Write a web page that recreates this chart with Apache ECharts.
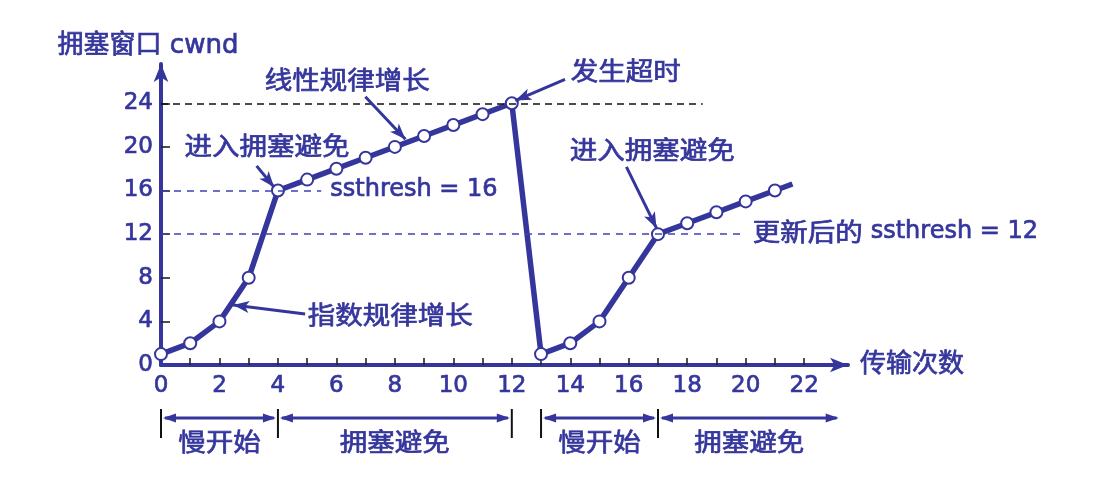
<!DOCTYPE html>
<html>
<head>
<meta charset="utf-8">
<script src="https://cdn.jsdelivr.net/npm/echarts@6/dist/echarts.min.js"></script>
<style>
html,body{margin:0;padding:0;background:#fff;}
#main{width:1103px;height:483px;}
</style>
</head>
<body>
<div id="main"></div>
<script>
// ---------- data ----------
const transmissions = [0,1,2,3,4,5,6,7,8,9,10,11,12,13,14,15,16,17,18,19,20,21];
const cwnd = [1,2,4,8,16,17,18,19,20,21,22,23,24,1,2,4,8,12,13,14,15,16];
const tailPoint = [21.6, 16.6];           // where the drawn line stops (no marker)
const xTickLabels = [0,2,4,6,8,10,12,14,16,18,20,22];
const xTicks = [1,2,3,4,5,6,7,8,9,10,11,12,13,14,15,16,17,18,19,20,21,22];
const yTickLabels = [0,4,8,12,16,20,24];
const yTicks = [4,8,12,16,20,24];

const ssthreshOld = 16;
const ssthreshNew = 12;
const timeoutLevel = 24;

const noteTexts = ['线性规律增长','进入拥塞避免','指数规律增长','发生超时','进入拥塞避免'];
const noteAt = [[6.37,26.15],[3.63,20.1],[7.84,4.6],[15.9,26.97],[16.8,19.8]];
const noteArrows = [
  [[6.99,24.6],[8.36,20.7]],
  [[3.27,18.26],[3.87,16.3]],
  [[4.93,4.68],[2.47,5.5]],
  [[13.82,26.19],[12.12,24.25]],
  [[15.92,18.17],[16.95,12.55]]
];
const phaseNames = ['慢开始','拥塞避免','慢开始','拥塞避免'];
const phaseBounds = [[0,4],[4,12],[13,17],[17,23.25]];

// ---------- style ----------
const BLUE = '#35369c';
const DASHBLUE = '#3f40b8';
const LATIN = 'DejaVu Sans';
const CJK = '"DejaVu Sans","Noto Sans CJK SC"';
const THICK = {textBorderColor:BLUE, textBorderWidth:0.7};

const seriesData = transmissions.map((t,i)=>[t,cwnd[i]]);
seriesData.push({value: tailPoint, symbol:'none'});

const dashedLines = [
  [{coord:[0,timeoutLevel], lineStyle:{color:'#111',width:1.7,type:[7,5]}}, {coord:[18.53,timeoutLevel]}],
  [{coord:[0,ssthreshOld], lineStyle:{color:DASHBLUE,width:1.7,type:[7,6]}}, {coord:[5.48,ssthreshOld]}],
  [{coord:[0,ssthreshNew], lineStyle:{color:DASHBLUE,width:1.7,type:[7,6]}}, {coord:[19.97,ssthreshNew]}]
];
const arrowLines = noteArrows.map(a=>[
  {coord:a[0], symbol:'none', lineStyle:{color:BLUE,width:3,type:'solid'}},
  {coord:a[1], symbol:'arrow', symbolSize:[9,16]}
]);

const chart = echarts.init(document.getElementById('main'), null, {renderer:'canvas'});
const option = {
  animation:false,
  backgroundColor:'#fff',
  grid:{left:161, right:255, top:64, bottom:118, containLabel:false},
  xAxis:{
    type:'value', min:0, max:23.5,
    name:'传输次数', nameLocation:'end', nameGap:12,
    nameTextStyle:Object.assign({color:BLUE, fontSize:26, fontFamily:CJK, verticalAlign:'middle', align:'left'}, THICK),
    axisLine:{show:true, symbol:['none','arrow'], symbolSize:[11,18], lineStyle:{color:BLUE, width:4}},
    axisTick:{show:true, inside:true, length:7, customValues:xTicks, lineStyle:{color:'#222', width:1.6}},
    axisLabel:Object.assign({customValues:xTickLabels, color:BLUE, fontSize:23, fontFamily:LATIN, margin:10}, THICK),
    splitLine:{show:false}
  },
  yAxis:{
    type:'value', min:0, max:27.6,
    name:'拥塞窗口 cwnd', nameLocation:'end', nameGap:5,
    nameTextStyle:Object.assign({color:BLUE, fontSize:26, fontFamily:CJK, padding:[0,26,0,0]}, THICK),
    axisLine:{show:true, symbol:['none','arrow'], symbolSize:[11,18], lineStyle:{color:BLUE, width:4}},
    axisTick:{show:true, inside:true, length:9, customValues:yTicks, lineStyle:{color:'#222', width:1.6}},
    axisLabel:Object.assign({customValues:yTickLabels, color:BLUE, fontSize:23, fontFamily:LATIN, margin:8}, THICK),
    splitLine:{show:false}
  },
  series:[{
    type:'line',
    data:seriesData,
    symbol:'circle', symbolSize:12,
    lineStyle:{color:BLUE, width:5.5},
    itemStyle:{color:'#fff', borderColor:BLUE, borderWidth:2},
    emphasis:{disabled:true},
    clip:false, z:3,
    markLine:{
      silent:true, animation:false,
      symbol:['none','none'],
      label:{show:false},
      emphasis:{disabled:true},
      data: dashedLines.concat(arrowLines)
    }
  }]
};
chart.setOption(option);

function P(x,y){ return chart.convertToPixel({xAxisIndex:0,yAxisIndex:0},[x,y]); }

const g = [];
function cjkText(txt, x, y, scale){
  const p = P(x,y);
  g.push({type:'text', x:p[0], y:p[1], scaleX:scale||1.1, z:10,
    style:{text:txt, fill:BLUE, stroke:BLUE, lineWidth:0.7, font:'25px "Noto Sans CJK SC"', align:'center', verticalAlign:'middle'}});
}
noteTexts.forEach((t,i)=>cjkText(t, noteAt[i][0], noteAt[i][1]));

// ssthresh labels
(function(){
  const p1 = P(5.79, ssthreshOld+0.05);
  g.push({type:'text', x:p1[0], y:p1[1], z:10,
    style:{text:'ssthresh = ' + ssthreshOld, fill:BLUE, stroke:BLUE, lineWidth:0.7, font:'24px "DejaVu Sans"', align:'left', verticalAlign:'middle'}});
  const p2 = P(20.24, ssthreshNew+0.25);
  g.push({type:'text', x:p2[0], y:p2[1], scaleX:1.1, z:10,
    style:{text:'更新后的', fill:BLUE, stroke:BLUE, lineWidth:0.7, font:'25px "Noto Sans CJK SC"', align:'left', verticalAlign:'middle'}});
  g.push({type:'text', x:p2[0]+118, y:p2[1], z:10,
    style:{text:'ssthresh = ' + ssthreshNew, fill:BLUE, stroke:BLUE, lineWidth:0.7, font:'24px "DejaVu Sans"', align:'left', verticalAlign:'middle'}});
})();

// phase annotations below the axis
const axisY = P(0,0)[1];
const lineY = axisY + 53;
const bars = new Set();
function arrowHead(x, y, dir){
  g.push({type:'polygon', z:10, shape:{points:[[x,y],[x-dir*13,y-4.5],[x-dir*13,y+4.5]]}, style:{fill:BLUE}});
}
phaseBounds.forEach((b,i)=>{
  const xa = P(b[0],0)[0], xb = P(b[1],0)[0];
  g.push({type:'line', z:10, shape:{x1:xa+4, y1:lineY, x2:xb-4, y2:lineY}, style:{stroke:BLUE, lineWidth:3}});
  arrowHead(xa+2, lineY, -1);
  arrowHead(xb-2, lineY, 1);
  bars.add(b[0]);
  if (i < phaseBounds.length-1) bars.add(b[1]);
  cjkText(phaseNames[i], (b[0]+b[1])/2, 0, 1.1);
  g[g.length-1].y = axisY + 76;
});
bars.forEach(v=>{
  const x = P(v,0)[0];
  g.push({type:'line', z:10, shape:{x1:x, y1:axisY+44, x2:x, y2:axisY+73}, style:{stroke:'#111', lineWidth:2}});
});

chart.setOption({graphic:g});
</script>
</body>
</html>
